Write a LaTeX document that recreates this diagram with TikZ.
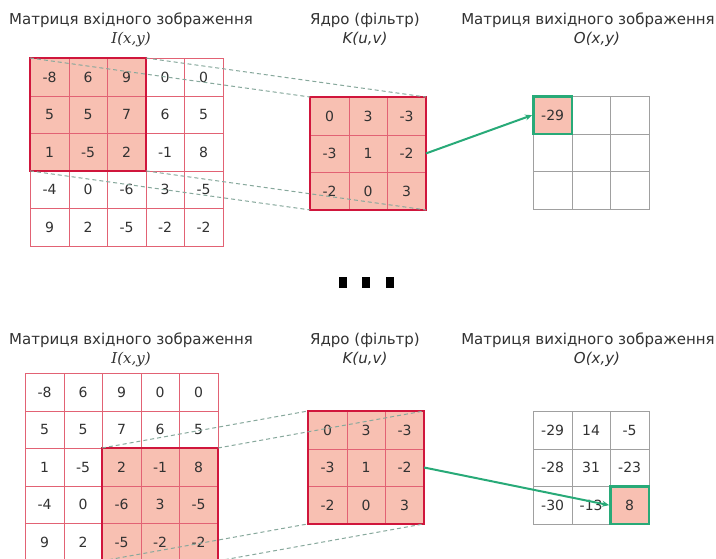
\documentclass[tikz,border=0pt]{standalone}
\usepackage{fontspec}
\setmainfont{DejaVu Sans}
\newfontfamily\serifit{DejaVu Serif}
\usetikzlibrary{positioning,arrows.meta}

\definecolor{gridred}{RGB}{226,98,116}
\definecolor{winred}{RGB}{208,22,60}
\definecolor{salmon}{RGB}{248,192,178}
\definecolor{linkgreen}{RGB}{40,170,120}
\definecolor{guidegray}{RGB}{135,168,156}
\definecolor{outgray}{RGB}{160,160,160}
\definecolor{numgray}{RGB}{50,50,50}

\begin{document}
\begin{tikzpicture}[
    x=1pt, y=-1pt,
    title/.style={font=\fontsize{15}{17}\selectfont, text=numgray, inner sep=0pt},
    sub/.style={font=\fontsize{15}{17}\selectfont\itshape, text=numgray, inner sep=0pt},
    cell/.style={draw=gridred, line width=0.8pt, minimum width=38.5pt, minimum height=37.5pt, inner sep=0pt, anchor=north west, font=\fontsize{14}{14}\selectfont, text=numgray},
    outcell/.style={cell, draw=outgray},
    window/.style={fill=salmon, minimum width=115.5pt, minimum height=112.5pt, inner sep=0pt, anchor=north west},
    frame/.style={draw=winred, line width=2.6pt},
    hit/.style={cell, anchor=center, fill=salmon, draw=linkgreen, line width=2.6pt},
    guide/.style={draw=guidegray, dashed, dash pattern=on 4pt off 3pt, line width=1pt},
    line/.style={draw=linkgreen, line width=2pt, -{Stealth[length=7pt,width=6pt]}},
    dot/.style={fill=black, minimum width=8pt, minimum height=11pt, inner sep=0pt}
]
    \clip (0,0) rectangle (716,558);
    \fill[white] (0,0) rectangle (716,558);

    % ---- first step: window in the top left corner ----
    \node[title] (ttin) at (131,20) {Матриця вхідного зображення};
    \node[sub, below=4pt of ttin] (tsin) {\serifit I(x,y)};
    \node[title] (ttk) at (365,20) {Ядро (фільтр)};
    \node[sub, below=4pt of ttk] (tsk) {K(u,v)};
    \node[title] (tto) at (588,20) {Матриця вихідного зображення};
    \node[sub, below=4pt of tto, xshift=9pt] (tso) {O(x,y)};

    \node[window] (twin) at (30,58) {};
    \foreach \vals [count=\r from 0] in {{-8,6,9,0,0},{5,5,7,6,5},{1,-5,2,-1,8},{-4,0,-6,3,-5},{9,2,-5,-2,-2}}
        \foreach \v [count=\c from 0] in \vals
            \node[cell] (tin-\r-\c) at ({30+38.5*\c},{58+37.5*\r}) {\v};
    \draw[frame] (twin.north west) rectangle (twin.south east);

    \node[window] (tkern) at (310,97) {};
    \foreach \vals [count=\r from 0] in {{0,3,-3},{-3,1,-2},{-2,0,3}}
        \foreach \v [count=\c from 0] in \vals
            \node[cell] (tk-\r-\c) at ({310+38.5*\c},{97+37.5*\r}) {\v};
    \draw[frame] (tkern.north west) rectangle (tkern.south east);

    \foreach \r in {0,1,2}
        \foreach \c in {0,1,2}
            \node[outcell] (tout-\r-\c) at ({533+38.5*\c},{96+37.5*\r}) {};
    \node[hit] (thit) at (tout-0-0) {-29};

    \path[guide] (twin.north west) -- (tkern.north west);
    \path[guide] (twin.north east) -- (tkern.north east);
    \path[guide] (twin.south west) -- (tkern.south west);
    \path[guide] (twin.south east) -- (tkern.south east);
    \path[line] (tkern.east) -- (thit.west);

    % ---- dots between the two steps ----
    \node[dot] (dot1) at (343,282) {};
    \node[dot, right=15pt of dot1] (dot2) {};
    \node[dot, right=15pt of dot2] (dot3) {};

    % ---- last step: window in the bottom right corner ----
    \node[title] (btin) at (131,340) {Матриця вхідного зображення};
    \node[sub, below=4pt of btin] (bsin) {\serifit I(x,y)};
    \node[title] (btk) at (365,340) {Ядро (фільтр)};
    \node[sub, below=4pt of btk] (bsk) {K(u,v)};
    \node[title] (bto) at (588,340) {Матриця вихідного зображення};
    \node[sub, below=4pt of bto, xshift=9pt] (bso) {O(x,y)};

    \node[window] (bwin) at (102,448) {};
    \foreach \vals [count=\r from 0] in {{-8,6,9,0,0},{5,5,7,6,5},{1,-5,2,-1,8},{-4,0,-6,3,-5},{9,2,-5,-2,-2}}
        \foreach \v [count=\c from 0] in \vals
            \node[cell] (bin-\r-\c) at ({25+38.5*\c},{373+37.5*\r}) {\v};
    \draw[frame] (bwin.north west) rectangle (bwin.south east);

    \node[window] (bkern) at (308,411) {};
    \foreach \vals [count=\r from 0] in {{0,3,-3},{-3,1,-2},{-2,0,3}}
        \foreach \v [count=\c from 0] in \vals
            \node[cell] (bk-\r-\c) at ({308+38.5*\c},{411+37.5*\r}) {\v};
    \draw[frame] (bkern.north west) rectangle (bkern.south east);

    \foreach \vals [count=\r from 0] in {{-29,14,-5},{-28,31,-23},{-30,-13,{}}}
        \foreach \v [count=\c from 0] in \vals
            \node[outcell] (bout-\r-\c) at ({533+38.5*\c},{411+37.5*\r}) {\v};
    \node[hit] (bhit) at (bout-2-2) {8};

    \path[guide] (bwin.north west) -- (bkern.north west);
    \path[guide] (bwin.north east) -- (bkern.north east);
    \path[guide] (bwin.south west) -- (bkern.south west);
    \path[guide] (bwin.south east) -- (bkern.south east);
    \path[line] (bkern.east) -- (bhit.west);
\end{tikzpicture}
\end{document}
